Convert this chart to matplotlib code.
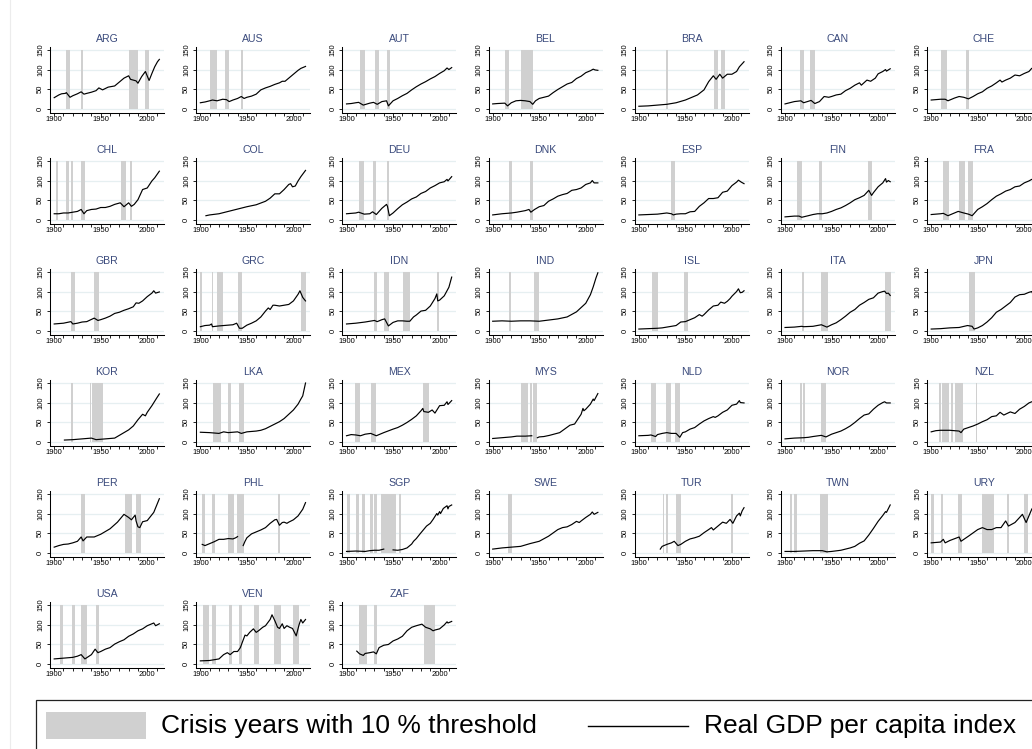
import numpy as np
import matplotlib
matplotlib.use("Agg")
import matplotlib.pyplot as plt
from matplotlib.patches import Rectangle

plt.rcParams['font.family'] = ['Liberation Sans', 'DejaVu Sans']

# ---- data: (year, real GDP per capita index) and crisis periods (start, end)
ARG = [(1900,28),(1905,35),(1908,38),(1912,39),(1913,41),(1917,29),(1920,33),(1925,38),(1929,43),(1932,37),(1935,39),(1940,42),(1945,46),(1948,53),(1952,48),(1958,55),(1965,58),(1970,68),(1975,78),(1980,84),(1982,75),(1985,73),(1988,71),(1990,65),(1994,82),(1998,95),(2002,72),(2005,90),(2008,107),(2011,120),(2013,126)]
ARG_CRISIS = [(1913,1917),(1929,1931),(1980,1990),(1998,2002)]
AUS = [(1900,15),(1905,17),(1910,20),(1913,22),(1918,20),(1924,24),(1928,23),(1931,18),(1935,22),(1940,26),(1944,31),(1947,26),(1950,29),(1955,32),(1960,37),(1965,48),(1970,53),(1975,57),(1980,62),(1985,66),(1988,70),(1991,70),(1995,78),(2000,88),(2005,98),(2008,103),(2013,108)]
AUS_CRISIS = [(1910,1918),(1926,1931),(1944,1946)]
AUT = [(1900,12),(1905,13),(1910,15),(1913,16),(1918,9),(1925,14),(1929,16),(1933,11),(1938,18),(1943,20),(1945,7),(1950,20),(1955,26),(1960,33),(1965,39),(1970,48),(1975,56),(1980,63),(1985,69),(1990,76),(1995,82),(2000,90),(2005,97),(2008,104),(2010,100),(2013,105)]
AUT_CRISIS = [(1914,1920),(1931,1935),(1943,1947)]
BEL = [(1900,12),(1905,13),(1913,14),(1916,7),(1920,15),(1925,20),(1930,21),(1935,20),(1940,18),(1943,11),(1946,20),(1950,26),(1955,29),(1960,32),(1965,41),(1970,49),(1975,56),(1980,63),(1985,67),(1990,77),(1995,83),(2000,92),(2005,97),(2008,101),(2010,99),(2013,98)]
BEL_CRISIS = [(1913,1918),(1930,1943)]
BRA = [(1900,6),(1910,7),(1920,9),(1930,11),(1940,15),(1950,22),(1955,27),(1963,35),(1970,48),(1975,69),(1980,84),(1983,75),(1987,88),(1990,78),(1995,88),(2000,88),(2005,95),(2008,107),(2013,120)]
BRA_CRISIS = [(1929,1931),(1981,1985),(1988,1993)]
CAN = [(1900,12),(1910,18),(1917,20),(1920,15),(1928,21),(1932,13),(1937,18),(1942,31),(1947,29),(1950,31),(1955,35),(1960,37),(1965,46),(1970,52),(1975,60),(1980,66),(1982,60),(1988,73),(1992,70),(1997,78),(2000,89),(2005,95),(2008,100),(2009,96),(2013,102)]
CAN_CRISIS = [(1916,1920),(1927,1932)]
CHE = [(1900,22),(1910,24),(1915,24),(1918,20),(1925,27),(1930,31),(1935,29),(1940,25),(1945,31),(1950,38),(1955,43),(1960,52),(1965,58),(1970,66),(1974,73),(1976,68),(1980,73),(1985,78),(1990,86),(1995,84),(2000,90),(2005,95),(2008,103),(2013,106)]
CHE_CRISIS = [(1911,1917),(1937,1941)]
CHL = [(1900,15),(1905,15),(1910,17),(1915,17),(1920,19),(1925,21),(1929,26),(1932,15),(1935,23),(1940,26),(1945,27),(1950,31),(1955,31),(1960,34),(1965,39),(1971,43),(1975,33),(1980,43),(1983,34),(1986,39),(1990,51),(1995,77),(2000,81),(2005,99),(2008,107),(2013,124)]
CHL_CRISIS = [(1902,1904),(1913,1916),(1918,1920),(1929,1933),(1972,1977),(1982,1984)]
COL = [(1906,10),(1910,12),(1920,15),(1930,21),(1940,27),(1950,33),(1960,38),(1970,47),(1975,55),(1980,66),(1985,66),(1990,77),(1995,90),(1997,92),(1999,84),(2002,86),(2005,99),(2008,110),(2013,126)]
COL_CRISIS = []
DEU = [(1900,15),(1910,17),(1913,19),(1919,14),(1925,15),(1928,20),(1932,13),(1938,29),(1943,39),(1944,34),(1946,10),(1950,17),(1955,28),(1960,38),(1965,45),(1970,53),(1975,58),(1980,67),(1985,72),(1990,81),(1995,87),(2000,94),(2005,97),(2008,103),(2009,99),(2013,110)]
DEU_CRISIS = [(1913,1919),(1928,1932),(1943,1946)]
DNK = [(1900,12),(1910,15),(1920,17),(1926,19),(1935,23),(1939,26),(1941,19),(1945,26),(1950,33),(1955,36),(1960,47),(1965,53),(1970,60),(1975,64),(1980,67),(1985,75),(1990,77),(1995,81),(2000,90),(2005,94),(2007,100),(2009,94),(2013,94)]
DNK_CRISIS = [(1917,1921),(1940,1943)]
ESP = [(1900,12),(1910,13),(1920,14),(1930,17),(1935,15),(1937,12),(1940,14),(1945,15),(1950,15),(1955,20),(1960,21),(1965,34),(1970,43),(1975,54),(1980,54),(1985,56),(1990,70),(1995,73),(2000,87),(2005,96),(2007,101),(2010,96),(2013,92)]
ESP_CRISIS = [(1935,1939)]
FIN = [(1900,7),(1910,9),(1915,9),(1918,6),(1925,10),(1930,13),(1935,15),(1940,15),(1945,17),(1950,21),(1955,26),(1960,30),(1965,36),(1970,43),(1975,51),(1980,56),(1985,62),(1990,75),(1993,62),(1995,69),(2000,84),(2005,94),(2008,105),(2009,96),(2011,100),(2013,97)]
FIN_CRISIS = [(1913,1918),(1937,1940),(1989,1993)]
FRA = [(1900,13),(1910,15),(1913,16),(1918,10),(1925,17),(1929,21),(1935,17),(1940,14),(1944,10),(1950,26),(1955,33),(1960,41),(1965,51),(1970,60),(1975,66),(1980,73),(1985,77),(1990,84),(1995,86),(2000,94),(2005,99),(2008,103),(2013,102)]
FRA_CRISIS = [(1913,1919),(1930,1936),(1940,1945)]
GBR = [(1900,17),(1910,19),(1918,23),(1920,17),(1925,19),(1930,22),(1935,23),(1943,32),(1947,26),(1950,28),(1955,32),(1960,37),(1965,44),(1970,47),(1975,52),(1980,56),(1985,61),(1988,71),(1991,70),(1995,76),(2000,87),(2005,96),(2007,102),(2009,96),(2013,99)]
GBR_CRISIS = [(1918,1922),(1943,1948)]
GRC = [(1900,10),(1905,13),(1910,14),(1912,17),(1913,10),(1920,12),(1930,14),(1935,15),(1939,19),(1942,6),(1945,6),(1950,14),(1955,19),(1960,25),(1965,35),(1970,50),(1973,58),(1975,54),(1978,65),(1980,65),(1985,63),(1990,65),(1995,67),(2000,76),(2005,93),(2007,102),(2010,85),(2013,76)]
GRC_CRISIS = [(1900,1902),(1912,1914),(1918,1924),(1940,1945),(2008,2014)]
IDN = [(1900,17),(1910,19),(1920,22),(1930,26),(1933,23),(1938,28),(1941,30),(1945,12),(1950,21),(1955,25),(1960,25),(1965,24),(1968,24),(1972,35),(1975,40),(1980,50),(1985,52),(1990,63),(1995,82),(1997,94),(1998,76),(2000,78),(2005,89),(2010,111),(2013,137)]
IDN_CRISIS = [(1930,1933),(1940,1946),(1961,1968),(1997,1999)]
IND = [(1900,24),(1910,25),(1920,24),(1930,25),(1940,25),(1950,24),(1960,27),(1970,30),(1980,35),(1990,48),(2000,70),(2005,92),(2008,112),(2011,135),(2013,148)]
IND_CRISIS = [(1918,1920),(1944,1950)]
ISL = [(1900,4),(1910,5),(1920,6),(1925,7),(1930,9),(1935,11),(1940,13),(1945,22),(1950,23),(1955,28),(1960,33),(1965,41),(1968,37),(1970,41),(1975,53),(1980,63),(1985,65),(1988,73),(1992,70),(1995,75),(1998,82),(2000,88),(2005,100),(2007,107),(2009,97),(2011,98),(2013,102)]
ISL_CRISIS = [(1914,1921),(1949,1953)]
ITA = [(1900,8),(1910,9),(1918,11),(1920,10),(1930,11),(1939,15),(1945,9),(1950,15),(1955,20),(1960,28),(1965,37),(1970,47),(1975,54),(1980,65),(1985,72),(1990,80),(1995,84),(2000,96),(2005,100),(2007,101),(2009,95),(2011,96),(2013,90)]
ITA_CRISIS = [(1918,1920),(1939,1946),(2007,2014)]
JPN = [(1900,4),(1910,5),(1920,7),(1930,8),(1939,13),(1944,11),(1946,4),(1950,7),(1955,13),(1960,22),(1965,33),(1970,47),(1975,54),(1980,63),(1985,72),(1990,86),(1995,92),(2000,93),(2005,98),(2008,100),(2009,95),(2013,102)]
JPN_CRISIS = [(1941,1947)]
KOR = [(1911,4),(1920,5),(1930,7),(1940,9),(1945,5),(1950,6),(1955,7),(1960,8),(1965,9),(1970,16),(1975,23),(1980,30),(1985,40),(1990,56),(1995,70),(1998,66),(2000,75),(2005,92),(2010,111),(2013,122)]
KOR_CRISIS = [(1918,1920),(1938,1940),(1941,1952)]
LKA = [(1900,24),(1910,23),(1920,21),(1925,25),(1930,23),(1935,24),(1940,25),(1944,21),(1950,25),(1955,26),(1960,27),(1965,29),(1970,33),(1975,39),(1980,45),(1985,51),(1990,59),(1995,70),(2000,81),(2005,96),(2008,109),(2010,117),(2013,150)]
LKA_CRISIS = [(1914,1922),(1930,1933),(1942,1947)]
MEX = [(1900,15),(1905,18),(1910,17),(1915,15),(1920,19),(1926,21),(1932,15),(1940,23),(1950,32),(1955,36),(1960,42),(1965,49),(1970,57),(1975,66),(1980,79),(1982,85),(1983,77),(1988,75),(1992,81),(1995,73),(2000,92),(2005,93),(2008,102),(2009,95),(2013,105)]
MEX_CRISIS = [(1909,1915),(1926,1932),(1982,1989)]
MYS = [(1900,8),(1910,10),(1920,12),(1926,14),(1935,14),(1942,15),(1943,None),(1948,10),(1950,12),(1955,13),(1961,16),(1972,23),(1983,42),(1988,45),(1995,70),(1997,85),(1998,79),(2000,83),(2005,96),(2008,109),(2009,105),(2013,123)]
MYS_CRISIS = [(1930,1938),(1940,1942),(1943,1948)]
NLD = [(1900,15),(1910,16),(1913,17),(1918,13),(1920,18),(1925,21),(1930,23),(1935,21),(1940,21),(1944,11),(1947,23),(1950,25),(1955,32),(1960,36),(1965,45),(1970,53),(1975,59),(1980,64),(1982,62),(1985,66),(1990,75),(1995,81),(2000,93),(2005,96),(2008,105),(2009,100),(2013,99)]
NLD_CRISIS = [(1913,1918),(1929,1934),(1939,1944)]
NOR = [(1900,7),(1910,9),(1920,10),(1925,11),(1930,13),(1939,16),(1944,12),(1950,19),(1955,23),(1960,27),(1965,33),(1970,40),(1975,49),(1980,59),(1985,68),(1990,71),(1995,83),(2000,93),(2005,100),(2007,102),(2009,99),(2013,99)]
NOR_CRISIS = [(1916,1918),(1919,1921),(1939,1944)]
NZL = [(1900,25),(1905,28),(1910,29),(1920,29),(1925,28),(1930,27),(1932,23),(1935,32),(1940,36),(1945,40),(1950,45),(1955,51),(1960,56),(1965,64),(1970,66),(1974,75),(1978,68),(1985,76),(1990,72),(1995,83),(2000,90),(2005,99),(2008,102),(2013,104)]
NZL_CRISIS = [(1908,1910),(1912,1919),(1921,1923),(1926,1934),(1948,1949)]
PER = [(1900,14),(1905,18),(1910,21),(1915,22),(1920,25),(1925,29),(1929,40),(1931,30),(1935,40),(1943,40),(1950,47),(1960,61),(1968,78),(1975,98),(1980,90),(1983,84),(1987,96),(1988,81),(1990,66),(1992,64),(1995,79),(2000,82),(2007,103),(2013,138)]
PER_CRISIS = [(1929,1933),(1976,1984),(1988,1993)]
PHL = [(1902,21),(1905,18),(1910,23),(1915,28),(1920,34),(1925,34),(1930,36),(1935,35),(1938,38),(1940,41),(1941,None),(1946,18),(1948,29),(1950,38),(1955,48),(1960,53),(1965,58),(1970,64),(1975,75),(1980,84),(1982,85),(1985,70),(1988,77),(1990,78),(1993,75),(1995,78),(2000,84),(2005,94),(2010,111),(2013,128)]
PHL_CRISIS = [(1902,1905),(1913,1916),(1930,1936),(1939,1947),(1983,1986)]
SGP = [(1900,3),(1910,4),(1920,3),(1925,5),(1930,6),(1935,6),(1940,9),(1941,None),(1950,7),(1955,6),(1960,8),(1965,12),(1970,22),(1972,29),(1975,36),(1979,48),(1986,68),(1990,75),(1993,85),(1997,100),(1998,96),(2000,105),(2001,100),(2004,113),(2008,120),(2009,112),(2010,118),(2013,122)]
SGP_CRISIS = [(1901,1904),(1910,1913),(1917,1920),(1925,1928),(1930,1933),(1937,1953),(1956,1958)]
SWE = [(1900,9),(1910,12),(1920,14),(1930,16),(1940,23),(1950,29),(1960,42),(1970,59),(1975,64),(1980,66),(1985,72),(1990,80),(1993,77),(1995,81),(2000,90),(2005,98),(2007,104),(2009,98),(2013,103)]
SWE_CRISIS = [(1916,1921)]
TUR = [(1923,9),(1925,16),(1930,21),(1935,25),(1938,29),(1942,18),(1945,21),(1950,29),(1955,35),(1960,38),(1965,42),(1970,51),(1975,59),(1978,64),(1980,58),(1985,68),(1990,78),(1994,75),(1998,85),(2001,75),(2005,94),(2008,101),(2009,94),(2011,107),(2013,115)]
TUR_CRISIS = [(1926,1927),(1929,1931),(1940,1945),(1999,2001)]
TWN = [(1900,3),(1910,3),(1920,4),(1930,5),(1940,5),(1945,2),(1950,3),(1960,6),(1970,12),(1975,16),(1980,24),(1985,30),(1990,45),(1995,62),(2000,80),(2005,95),(2008,105),(2009,103),(2013,122)]
TWN_CRISIS = [(1905,1907),(1910,1913),(1938,1946)]
URY = [(1900,25),(1910,27),(1913,34),(1915,25),(1920,31),(1930,40),(1932,29),(1940,42),(1950,59),(1955,64),(1960,59),(1965,59),(1970,64),(1975,64),(1980,81),(1983,68),(1990,77),(1995,90),(1998,98),(2002,77),(2005,94),(2008,111),(2013,128)]
URY_CRISIS = [(1900,1903),(1910,1913),(1929,1933),(1955,1968),(1981,1984),(2000,2004)]
USA = [(1900,12),(1910,14),(1920,16),(1925,19),(1929,23),(1933,12),(1940,23),(1944,37),(1947,28),(1950,31),(1955,37),(1960,41),(1965,50),(1970,56),(1975,61),(1980,70),(1985,76),(1990,84),(1995,89),(2000,97),(2005,102),(2007,104),(2009,97),(2013,102)]
USA_CRISIS = [(1906,1909),(1919,1922),(1929,1935),(1945,1948)]
VEN = [(1900,7),(1910,8),(1920,12),(1925,23),(1929,28),(1932,23),(1936,31),(1940,31),(1943,41),(1945,54),(1948,73),(1950,71),(1953,80),(1957,89),(1960,80),(1963,85),(1967,93),(1970,97),(1975,113),(1977,125),(1980,110),(1983,93),(1985,90),(1988,102),(1990,90),(1993,97),(1996,93),(1999,90),(2003,71),(2006,99),(2008,113),(2010,104),(2013,113)]
VEN_CRISIS = [(1903,1909),(1913,1917),(1931,1934),(1941,1945),(1958,1963),(1979,1987),(2000,2006)]
ZAF = [(1911,32),(1914,25),(1918,21),(1920,26),(1925,28),(1929,30),(1932,25),(1935,41),(1940,47),(1945,49),(1950,58),(1955,63),(1960,70),(1965,84),(1970,93),(1975,97),(1981,101),(1985,93),(1990,89),(1993,84),(1995,86),(2000,89),(2005,99),(2008,107),(2009,104),(2013,108)]
ZAF_CRISIS = [(1913,1922),(1929,1933),(1983,1995)]

COUNTRIES = ["ARG", "AUS", "AUT", "BEL", "BRA", "CAN", "CHE",
             "CHL", "COL", "DEU", "DNK", "ESP", "FIN", "FRA",
             "GBR", "GRC", "IDN", "IND", "ISL", "ITA", "JPN",
             "KOR", "LKA", "MEX", "MYS", "NLD", "NOR", "NZL",
             "PER", "PHL", "SGP", "SWE", "TUR", "TWN", "URY",
             "USA", "VEN", "ZAF"]
series = {c: (globals()[c], globals()[c + "_CRISIS"]) for c in COUNTRIES}

LEGEND_LABELS = ["Crisis years with 10 % threshold", "Real GDP per capita index"]

# ---- layout (pixels)
W, H = 1032, 749
col_x0, col_step = 50, 146.17
row_y0, row_step = 113.3, 111.0
ax_w, ax_h = 114, 66.6
band_col = "#d0d0d0"
grid_col = "#e6eff1"
title_col = "#3a4a7c"

fig = plt.figure(figsize=(W / 100, H / 100), dpi=100)
fig.patch.set_facecolor("white")

# overlay for frame elements (faint outer line, legend)
over = fig.add_axes([0, 0, 1, 1], zorder=0)
over.set_xlim(0, W)
over.set_ylim(H, 0)
over.axis("off")
over.plot([10, 10], [0, H], color="#ececec", lw=0.8)

for i, code in enumerate(COUNTRIES):
    r, c = divmod(i, 7)
    x0 = col_x0 + c * col_step
    yb = row_y0 + r * row_step
    ax = fig.add_axes([x0 / W, 1 - yb / H, ax_w / W, ax_h / H], zorder=1)
    ax.patch.set_alpha(0)
    pts, crises = series[code]
    yrs = np.array([p[0] for p in pts], dtype=float)
    vals = np.array([np.nan if p[1] is None else p[1] for p in pts], dtype=float)
    for a, b in crises:
        ax.fill_between([a, b], 0, 150, color=band_col, lw=0, zorder=2)
    ax.plot(yrs, vals, color="black", lw=0.85, zorder=3)

    ax.set_xlim(1895.5, 2018)
    ax.set_ylim(-12, 158.5)
    ax.set_yticks([0, 50, 100, 150])
    ax.set_yticklabels(["0", "50", "100", "150"], rotation=90, va="center")
    xt = list(range(1900, 2011, 10))
    ax.set_xticks(xt)
    ax.set_xticklabels([str(t) if t % 50 == 0 else "" for t in xt])
    ax.tick_params(axis="x", length=2.3, width=0.6, pad=-0.3, labelsize=5.5, direction="out")
    ax.tick_params(axis="y", length=2.3, width=0.6, pad=2.0, labelsize=5.5, direction="out")
    ax.yaxis.grid(True, color=grid_col, lw=0.9)
    ax.set_axisbelow(True)
    for s in ("top", "right"):
        ax.spines[s].set_visible(False)
    for s in ("left", "bottom"):
        ax.spines[s].set_linewidth(0.75)
    ax.set_title(code, fontsize=7.6, color=title_col, pad=3.4)

# legend drawn in pixel space
over.add_patch(Rectangle((36, 700), 1100, 80, facecolor="white", edgecolor="#222222", lw=0.9, zorder=1))
over.add_patch(Rectangle((46, 712), 100, 27, facecolor=band_col, edgecolor="none", zorder=2))
over.text(161, 726, LEGEND_LABELS[0], fontsize=19, va="center", ha="left", zorder=3)
over.plot([588, 688], [725.5, 725.5], color="black", lw=1.0, zorder=3)
over.text(704, 726, LEGEND_LABELS[1], fontsize=19, va="center", ha="left", zorder=3)

fig.savefig("out.png", dpi=100)
